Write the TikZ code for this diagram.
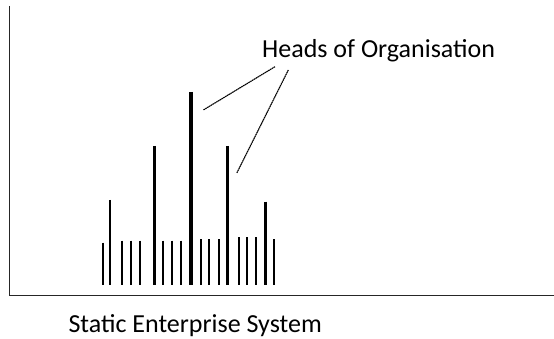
\documentclass[tikz,border=0pt]{standalone}
\usepackage{fontspec}
\setmainfont{Carlito}
\begin{document}
\begin{tikzpicture}[x=1pt,y=-1pt,
  axis/.style={line width=1.8pt,draw=black!85},
  thinbar/.style={line width=1.7pt},
  midbar/.style={line width=2.6pt},
  bigbar/.style={line width=4.4pt},
  leader/.style={line width=1.1pt,dash pattern=on 1.6pt off 0.5pt,draw=black},
  lbl/.style={font=\fontsize{26}{30}\selectfont,text=black,inner sep=0pt,anchor=base west}]
\useasboundingbox (0,0) rectangle (554,339);
% axes
\draw[axis] (9.5,6) -- (9.5,295.5) -- (554,295.5);
% short bars
\foreach \x/\t in {102.7/242.7,122.3/240.7,130.7/240.7,140.3/240.7,163.3/240.7,171.7/240.7,181/240.7,200.7/239.3,209/239.3,218.7/239.3,238.7/237.3,246.7/237.3,256/237.3,274.3/239.3}
  \draw[thinbar] (\x,\t) -- (\x,285);
% tall bars
\draw[midbar] (110,200) -- (110,285);
\draw[midbar] (154.3,146) -- (154.3,285);
\draw[bigbar] (190.7,92) -- (190.7,285);
\draw[midbar] (227.7,146) -- (227.7,285);
\draw[midbar] (265.3,201.7) -- (265.3,285);
% labels
\node[lbl] (heads) at (262,57.3) {Heads of Organisation};
\node[lbl] (sys) at (68.3,332.7) {Static Enterprise System};
% leaders
\coordinate (l1s) at (275,66.7);
\coordinate (l1e) at (203.3,110);
\coordinate (l2s) at (288.3,70);
\coordinate (l2e) at (236.7,173.3);
\draw[leader] (l1s) -- (l1e);
\draw[leader] (l2s) -- (l2e);
\end{tikzpicture}
\end{document}
